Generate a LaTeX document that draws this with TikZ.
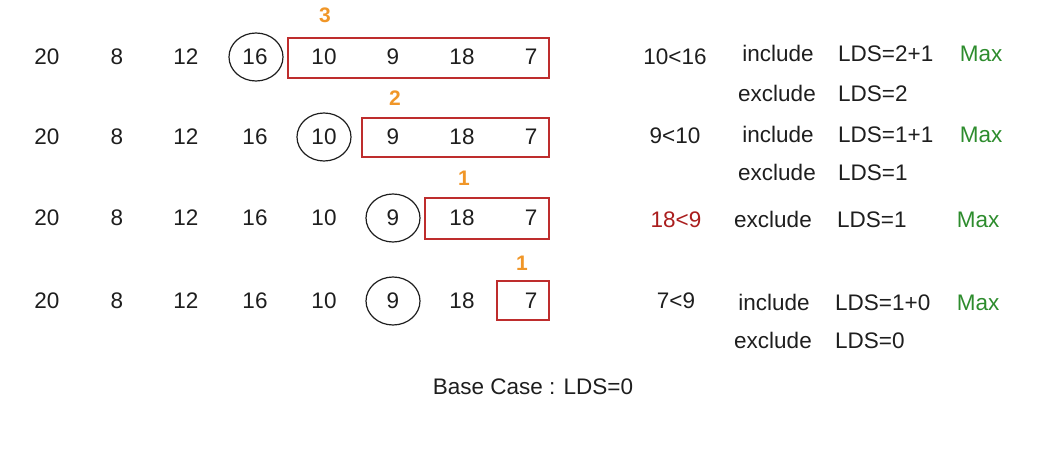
\documentclass[tikz,border=0pt]{standalone}
\usepackage{fontspec}
\setmainfont{Liberation Sans}
\usetikzlibrary{shapes.geometric}
\definecolor{boxred}{RGB}{190,45,45}
\definecolor{txtred}{RGB}{170,30,30}
\definecolor{numorange}{RGB}{240,150,40}
\definecolor{maxgreen}{RGB}{45,140,45}
\definecolor{ink}{RGB}{30,30,30}
\begin{document}
\begin{tikzpicture}[x=1pt,y=-1pt,
  txt/.style={inner sep=0pt,font=\fontsize{22.5}{26}\selectfont,text=ink},
  bt/.style={txt,anchor=base},
  bw/.style={txt,anchor=base west},
  circ/.style={draw=ink,line width=1.2pt,ellipse,minimum width=54pt,minimum height=48pt,inner sep=0pt},
  redbox/.style={draw=boxred,line width=1.2pt,rectangle,inner sep=0pt},
  cnt/.style={inner sep=0pt,font=\fontsize{21}{25}\selectfont\bfseries,text=numorange},
  maxt/.style={bt,text=maxgreen}]
\useasboundingbox (0,0) rectangle (1057,452);
% rows of numbers
\foreach \r/\y in {a/57,b/137,c/218,d/301}{
  \foreach \v/\x [count=\i] in {20/47,8/117,12/186,16/255,10/324,9/393,18/462,7/531}{
    \node[txt] (\r\i) at (\x,\y) {\v};
  }
}
% circles
\node[circ] (ca) at (256,57) {};
\node[circ] (cb) at (324,137) {};
\node[circ] (cc) at (393,218) {};
\node[circ] (cd) at (393,301) {};
% red boxes
\node[redbox,minimum width=261pt,minimum height=40pt] (ra) at (418.5,58) {};
\node[redbox,minimum width=187pt,minimum height=39pt] (rb) at (455.5,137.5) {};
\node[redbox,minimum width=124pt,minimum height=41pt] (rc) at (487,218.5) {};
\node[redbox,minimum width=52pt,minimum height=39pt] (rd) at (523,300.5) {};
% counts
\node[cnt] (n3) at (325,15) {3};
\node[cnt] (n2) at (395,98) {2};
\node[cnt] (n1a) at (464,178) {1};
\node[cnt] (n1b) at (522,263) {1};
% right side (baselines)
\node[bt] (cmp1) at (675,65) {10<16};
\node[bt] (in1) at (778,62) {include};
\node[bw] (l1) at (838,62) {LDS=2+1};
\node[maxt] (m1) at (981,62) {Max};
\node[bt] (ex1) at (777,101) {exclude};
\node[bw] (l1e) at (838,101) {LDS=2};
\node[bt] (cmp2) at (675,143) {9<10};
\node[bt] (in2) at (778,142) {include};
\node[bw] (l2) at (838,142) {LDS=1+1};
\node[maxt] (m2) at (981,142) {Max};
\node[bt] (ex2) at (777,180) {exclude};
\node[bw] (l2e) at (838,180) {LDS=1};
\node[bt,text=txtred] (cmp3) at (676,227) {18<9};
\node[bt] (ex3) at (773,227) {exclude};
\node[bw] (l3) at (837,227) {LDS=1};
\node[maxt] (m3) at (978,227) {Max};
\node[bt] (cmp4) at (676,308) {7<9};
\node[bt] (in4) at (774,310) {include};
\node[bw] (l4) at (835,310) {LDS=1+0};
\node[maxt] (m4) at (978,310) {Max};
\node[bt] (ex4) at (773,348) {exclude};
\node[bw] (l4e) at (835,348) {LDS=0};
\node[bt] (base) at (533,394) {Base Case : LDS=0};
\end{tikzpicture}
\end{document}
